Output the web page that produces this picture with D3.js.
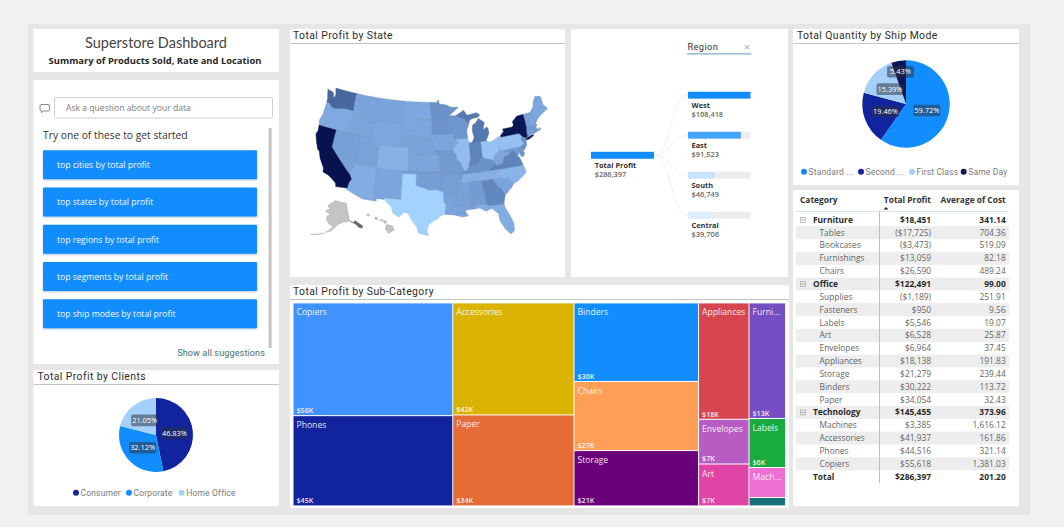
<!DOCTYPE html>
<html>
<head>
<meta charset="utf-8">
<title>Superstore Dashboard</title>
<script src="https://cdn.jsdelivr.net/npm/d3@7/dist/d3.min.js"></script>
<style>
  html, body { margin: 0; padding: 0; background: #f1f1f1; overflow: hidden; }
  svg { display: block; }
  text { font-family: "Open Sans", "Noto Sans", sans-serif; }
  .din { font-family: Roboto, sans-serif; letter-spacing: .42px; }
</style>
</head>
<body>
<svg id="board" width="1064" height="527"></svg>
<script>
// ---- Shared values ----
const suggestions = ["top cities by total profit", "top states by total profit", "top regions by total profit",
  "top segments by total profit", "top ship modes by total profit"];

const clientSegments = ["Consumer", "Corporate", "Home Office"];
const clientShares = [46.83, 32.12, 21.05];
const clientColors = ["#12239E", "#118DFF", "#A5D0FB"];

const shipModes = ["Standard Class", "Second Class", "First Class", "Same Day"];
const shipLegend = ["Standard ...", "Second ...", "First Class", "Same Day"];
const shipShares = [59.72, 19.46, 15.39, 5.43];
const shipColors = ["#118DFF", "#12239E", "#A5D0FB", "#0D1554"];

const regions = ["West", "East", "South", "Central"];
const regionProfit = [108418, 91523, 46749, 39706];
const totalProfit = 286397;

// Table rows: level 0 = category, 1 = sub-category
const rowNames = ["Furniture", "Tables", "Bookcases", "Furnishings", "Chairs", "Office", "Supplies", "Fasteners",
  "Labels", "Art", "Envelopes", "Appliances", "Storage", "Binders", "Paper", "Technology", "Machines", "Accessories",
  "Phones", "Copiers", "Total"];
const rowLevels = [0, 1, 1, 1, 1, 0, 1, 1, 1, 1, 1, 1, 1, 1, 1, 0, 1, 1, 1, 1, 2];
const rowProfit = [18451, -17725, -3473, 13059, 26590, 122491, -1189, 950, 5546, 6528, 6964, 18138, 21279, 30222,
  34054, 145455, 3385, 41937, 44516, 55618, 286397];
const rowCost = [341.14, 704.36, 519.09, 82.18, 489.24, 99.00, 251.91, 9.56, 19.07, 25.87, 37.45, 191.83, 239.44,
  113.72, 32.43, 373.96, 1616.12, 161.86, 321.14, 1381.03, 201.20];

// Treemap columns, in reading order
const treeNames = [["Copiers", "Phones"], ["Accessories", "Paper"], ["Binders", "Chairs", "Storage"],
  ["Appliances", "Envelopes", "Art"], ["Furnishings", "Labels", "Machines", "Fasteners"]];
const treeShort = { Furnishings: "Furni...", Machines: "Mach...", Fasteners: "" };
const treeColors = { Copiers: "#4092FF", Phones: "#12239E", Accessories: "#D9B300", Paper: "#E66C37", Binders: "#118DFF",
  Chairs: "#FF9F57", Storage: "#6B007B", Appliances: "#D64550", Envelopes: "#B65CC2", Art: "#E044A7",
  Furnishings: "#744EC2", Labels: "#1AAB40", Machines: "#EE6FD2", Fasteners: "#197278" };

const stateProfit = { CA: 76381, NY: 74039, WA: 33403, MI: 24463, VA: 18598, IN: 18383, GA: 16250, KY: 11200, MN: 10823,
  DE: 9977, NJ: 9773, WI: 8402, RI: 7286, MD: 7031, MA: 6786, MO: 6436, AL: 5787, OK: 4854, AR: 4009, CT: 3511, NV: 3317,
  MS: 3173, UT: 2547, VT: 2245, LA: 2196, NE: 2037, MT: 1833, SC: 1769, NH: 1707, IA: 1183, NM: 1157, DC: 1060, KS: 836,
  ID: 827, ME: 454, SD: 395, ND: 230, WV: 186, WY: 100, OR: -1190, FL: -3399, AZ: -3428, TN: -5342, CO: -6528, NC: -7491,
  IL: -12608, PA: -15560, OH: -16971, TX: -25729 };

// Simplified state outlines as longitude / latitude rings
const stateOutlines = {
  WA: [[[-124.7,48.4],[-123.1,48.15],[-122.7,47.4],[-122.35,47.4],[-122.3,48.0],[-122.75,49],[-117.03,49],[-117.04,46.42],[-116.92,45.995],[-118.98,46],[-119.3,45.93],[-121.2,45.65],[-122.3,45.55],[-122.8,45.9],[-123.2,46.15],[-124,46.27],[-124.1,46.9]]],
  OR: [[[-124,46.27],[-123.2,46.15],[-122.8,45.9],[-122.3,45.55],[-121.2,45.65],[-119.3,45.93],[-118.98,46],[-116.92,45.995],[-116.5,45.5],[-117.2,44.4],[-117.03,44],[-117.03,42],[-120,42],[-124.2,42],[-124.5,42.85],[-124.1,44]]],
  ID: [[[-117.03,49],[-116.05,49],[-116.05,48],[-115.7,47.5],[-114.7,46.7],[-114.35,46.65],[-114.5,45.6],[-113.95,45.7],[-113.45,45.05],[-113,44.45],[-111.05,44.48],[-111.05,42],[-114.04,42],[-117.03,42],[-117.03,44],[-117.2,44.4],[-116.5,45.5],[-116.92,45.995],[-117.04,46.42]]],
  MT: [[[-116.05,49],[-104.05,49],[-104.05,45.94],[-104.05,45],[-111.05,45],[-111.05,44.48],[-113,44.45],[-113.45,45.05],[-113.95,45.7],[-114.5,45.6],[-114.35,46.65],[-114.7,46.7],[-115.7,47.5],[-116.05,48]]],
  WY: [[[-111.05,45],[-104.05,45],[-104.05,41],[-109.05,41],[-111.05,41]]],
  NV: [[[-120,42],[-114.04,42],[-114.04,37],[-114.04,36.2],[-114.7,36.1],[-114.63,35],[-120,39]]],
  CA: [[[-124.2,42],[-120,42],[-120,39],[-114.63,35],[-114.13,34.3],[-114.5,33.9],[-114.72,32.72],[-117.12,32.53],[-117.3,33.1],[-118.4,33.75],[-119.2,34.15],[-120.5,34.45],[-120.65,35.15],[-121.9,36.6],[-122.5,37.7],[-123,38],[-123.8,39.3],[-124.35,40.4],[-124.1,41]]],
  UT: [[[-114.04,42],[-111.05,42],[-111.05,41],[-109.05,41],[-109.05,37],[-114.04,37]]],
  AZ: [[[-114.04,37],[-109.05,37],[-109.05,31.33],[-111.07,31.33],[-114.8,32.5],[-114.72,32.72],[-114.5,33.9],[-114.13,34.3],[-114.63,35],[-114.7,36.1],[-114.04,36.2]]],
  CO: [[[-109.05,41],[-104.05,41],[-102.05,41],[-102.05,40],[-102.05,37],[-103,37],[-109.05,37]]],
  NM: [[[-109.05,37],[-103,37],[-103,36.5],[-103.04,32],[-106.62,32],[-106.53,31.78],[-108.2,31.78],[-108.2,31.33],[-109.05,31.33]]],
  ND: [[[-104.05,49],[-97.23,49],[-96.85,47.5],[-96.56,45.94],[-104.05,45.94]]],
  SD: [[[-104.05,45.94],[-96.56,45.94],[-96.45,45.3],[-96.45,43.5],[-96.5,42.5],[-97.9,42.8],[-98.5,43],[-104.05,43],[-104.05,45]]],
  NE: [[[-104.05,43],[-98.5,43],[-97.9,42.8],[-96.5,42.5],[-96.1,41.5],[-95.77,40.58],[-95.3,40],[-102.05,40],[-102.05,41],[-104.05,41]]],
  KS: [[[-102.05,40],[-95.3,40],[-94.9,39.8],[-94.6,39.1],[-94.62,37],[-102.05,37]]],
  OK: [[[-103,37],[-102.05,37],[-94.62,37],[-94.62,36.5],[-94.43,35.4],[-94.48,33.64],[-95.5,33.9],[-97.2,33.85],[-98.1,34.13],[-100,34.56],[-100,36.5],[-103,36.5]]],
  TX: [[[-106.62,32],[-103.04,32],[-103,36.5],[-100,36.5],[-100,34.56],[-98.1,34.13],[-97.2,33.85],[-95.5,33.9],[-94.48,33.64],[-94.04,33.55],[-94.04,33],[-94.04,31.99],[-93.55,31.2],[-93.84,29.7],[-94.7,29.4],[-95.3,28.9],[-96.4,28.4],[-97.2,27.7],[-97.4,26.8],[-97.15,25.96],[-99.1,26.4],[-99.5,27.5],[-100.3,28.3],[-101.4,29.77],[-102.3,29.88],[-103.15,28.98],[-104.5,29.6],[-104.9,30.6],[-106.53,31.78]]],
  MN: [[[-97.23,49],[-95.15,49],[-95.15,49.38],[-94.8,49.3],[-94.6,48.7],[-93,48.55],[-91.5,48.07],[-89.6,48],[-92,46.75],[-92.3,46.65],[-92.3,46.1],[-92.85,45.6],[-92.75,44.8],[-91.22,43.5],[-96.45,43.5],[-96.45,45.3],[-96.56,45.94],[-96.85,47.5]]],
  IA: [[[-96.45,43.5],[-91.22,43.5],[-91.1,42.7],[-90.65,42.5],[-90.15,41.9],[-91.1,41.2],[-91.42,40.38],[-91.75,40.6],[-95.77,40.58],[-96.1,41.5],[-96.5,42.5]]],
  MO: [[[-95.77,40.58],[-91.75,40.6],[-91.42,40.38],[-90.7,39.9],[-90.7,39],[-90.15,38.75],[-89.6,37.9],[-89.13,37],[-89.4,36.5],[-89.7,36],[-90.37,36],[-90.15,36.5],[-94.62,36.5],[-94.62,37],[-94.6,39.1],[-94.9,39.8],[-95.3,40]]],
  AR: [[[-94.62,36.5],[-90.15,36.5],[-90.37,36],[-89.7,36],[-90.1,35],[-91.1,33.9],[-91.17,33],[-94.04,33],[-94.04,33.55],[-94.48,33.64],[-94.43,35.4]]],
  LA: [[[-94.04,33],[-91.17,33],[-91.6,31],[-89.75,31],[-89.6,30.2],[-89.4,29.8],[-89,29.2],[-90.2,29.1],[-91.8,29.5],[-93.84,29.7],[-93.55,31.2],[-94.04,31.99]]],
  MS: [[[-90.1,35],[-88.2,35],[-88.4,30.3],[-89.6,30.2],[-89.75,31],[-91.6,31],[-91.17,33],[-91.1,33.9]]],
  AL: [[[-88.2,35],[-85.6,35],[-85,32.3],[-85,31],[-87.6,31],[-87.5,30.3],[-88.4,30.3]]],
  TN: [[[-90.1,35],[-89.7,36],[-89.4,36.5],[-88.05,36.5],[-83.68,36.6],[-81.68,36.59],[-82,36.1],[-84.3,35],[-85.6,35],[-88.2,35]]],
  KY: [[[-89.4,36.5],[-89.13,37],[-88.5,37.1],[-88.05,37.8],[-87,37.9],[-86,38],[-85.4,38.7],[-84.8,39.1],[-84.2,38.8],[-83.6,38.65],[-82.6,38.4],[-82,37.55],[-83.68,36.6],[-88.05,36.5]]],
  IL: [[[-91.42,40.38],[-91.1,41.2],[-90.15,41.9],[-90.65,42.5],[-87.8,42.5],[-87.53,41.7],[-87.53,39.35],[-87.6,38.7],[-88.05,37.8],[-88.5,37.1],[-89.13,37],[-89.6,37.9],[-90.15,38.75],[-90.7,39],[-90.7,39.9]]],
  WI: [[[-92.3,46.65],[-90.4,46.55],[-88.1,45.9],[-87.6,45.1],[-87,45.3],[-87.9,43.9],[-87.8,42.5],[-90.65,42.5],[-91.1,42.7],[-91.22,43.5],[-92.75,44.8],[-92.85,45.6],[-92.3,46.1]]],
  MI: [[[-86.8,41.76],[-84.8,41.76],[-83.45,41.73],[-83.1,42.2],[-82.5,43],[-82.6,43.9],[-83,44.05],[-83.9,43.65],[-83.3,44.9],[-84.7,45.75],[-85.5,45],[-86.3,44.7],[-86.5,43.7],[-86.2,42.5]],
       [[-90.4,46.55],[-88.3,47.4],[-87.5,46.5],[-85,46.75],[-84.2,46.3],[-84.7,46],[-86.5,45.8],[-87.6,45.1],[-88.1,45.9]]],
  IN: [[[-87.53,41.7],[-86.8,41.76],[-84.8,41.76],[-84.8,39.1],[-85.4,38.7],[-86,38],[-87,37.9],[-88.05,37.8],[-87.6,38.7],[-87.53,39.35]]],
  OH: [[[-84.8,41.76],[-83.45,41.73],[-82.5,41.4],[-81.3,41.75],[-80.52,42],[-80.52,40.64],[-80.85,39.7],[-81.75,39.2],[-82.2,38.6],[-82.6,38.4],[-83.6,38.65],[-84.2,38.8],[-84.8,39.1]]],
  WV: [[[-80.52,40.64],[-80.52,39.72],[-79.48,39.72],[-79.48,39.2],[-78.35,39.4],[-77.75,39.32],[-78.9,38.6],[-79.65,38.55],[-80.3,37.5],[-81.7,37.2],[-82,37.55],[-82.6,38.4],[-82.2,38.6],[-81.75,39.2],[-80.85,39.7]]],
  VA: [[[-83.68,36.6],[-81.68,36.59],[-75.9,36.55],[-76.3,37.9],[-77.05,38.4],[-77.05,38.85],[-77.5,39.1],[-77.75,39.32],[-78.9,38.6],[-79.65,38.55],[-80.3,37.5],[-81.7,37.2],[-82,37.55]]],
  NC: [[[-84.3,35],[-82,36.1],[-81.68,36.59],[-75.9,36.55],[-75.5,35.25],[-76.5,34.65],[-77.9,33.9],[-78.55,33.85],[-79.7,34.8],[-80.8,34.82],[-81,35.1],[-82.3,35.2],[-83.1,35]]],
  SC: [[[-83.1,35],[-82.3,35.2],[-81,35.1],[-80.8,34.82],[-79.7,34.8],[-78.55,33.85],[-79.2,33.2],[-80.5,32.3],[-80.9,32.05],[-81.4,33],[-82.5,34]]],
  GA: [[[-85.6,35],[-84.3,35],[-83.1,35],[-82.5,34],[-81.4,33],[-80.9,32.05],[-81.4,30.7],[-82.2,30.55],[-84.86,30.7],[-85,31],[-85,32.3]]],
  FL: [[[-87.6,31],[-85,31],[-84.86,30.7],[-82.2,30.55],[-81.4,30.7],[-81.3,29.9],[-80.55,28.4],[-80.05,26.9],[-80.15,25.7],[-80.9,25.15],[-81.8,26.1],[-82.7,27.7],[-82.8,29],[-84,30.1],[-85.3,29.7],[-86.5,30.4],[-87.5,30.3]]],
  PA: [[[-80.52,42],[-79.76,42.25],[-79.76,42],[-75.35,42],[-74.7,41.35],[-75.13,40.98],[-75.2,40.65],[-74.72,40.15],[-75.4,39.8],[-75.78,39.72],[-79.48,39.72],[-80.52,39.72],[-80.52,40.64]]],
  NY: [[[-79.76,42],[-79.76,42.25],[-78.9,42.85],[-79.05,43.27],[-76.8,43.3],[-76.2,43.55],[-76.3,44.2],[-75,44.95],[-73.35,45.01],[-73.25,43.6],[-73.27,42.75],[-73.5,42.05],[-73.5,41.3],[-73.65,41],[-74,41],[-74.7,41.35],[-75.35,42]],
       [[-74.05,40.6],[-73.7,40.9],[-72.3,41.15],[-71.9,41.05],[-73.2,40.62]]],
  NJ: [[[-74.7,41.35],[-74,41],[-74.05,40.5],[-74.1,39.75],[-74.9,38.95],[-75.5,39.5],[-75.4,39.8],[-74.72,40.15],[-75.2,40.65],[-75.13,40.98]]],
  DE: [[[-75.78,39.72],[-75.4,39.8],[-75.05,38.45],[-75.7,38.46]]],
  MD: [[[-79.48,39.72],[-75.78,39.72],[-75.7,38.46],[-75.05,38.45],[-75.25,38.03],[-75.9,37.95],[-76.2,38.9],[-76.45,38.3],[-77.05,38.4],[-77.05,38.85],[-77.5,39.1],[-77.75,39.32],[-78.35,39.4],[-79.48,39.2]]],
  DC: [[[-77.12,38.93],[-77.04,39],[-76.91,38.89],[-77.04,38.79]]],
  CT: [[[-73.5,42.05],[-71.8,42.02],[-71.8,41.32],[-73.65,41],[-73.5,41.3]]],
  RI: [[[-71.8,42.02],[-71.38,42.02],[-71.15,41.5],[-71.8,41.32]]],
  MA: [[[-73.5,42.05],[-73.27,42.75],[-72.46,42.73],[-71.3,42.7],[-70.8,42.87],[-70.6,42.65],[-71,42.3],[-70.55,41.8],[-70.05,42.05],[-69.95,41.7],[-71.15,41.5],[-71.38,42.02],[-71.8,42.02]]],
  VT: [[[-73.35,45.01],[-71.5,45.01],[-72.05,44.1],[-72.45,43],[-72.46,42.73],[-73.27,42.75],[-73.25,43.6]]],
  NH: [[[-71.5,45.01],[-71.08,45.3],[-70.98,43.4],[-70.7,43.07],[-70.8,42.87],[-71.3,42.7],[-72.46,42.73],[-72.45,43],[-72.05,44.1]]],
  ME: [[[-71.08,45.3],[-70.3,45.9],[-70,46.7],[-69.2,47.45],[-68.3,47.35],[-67.8,47.07],[-67.8,45.7],[-67,44.85],[-68.5,44.3],[-69.8,43.75],[-70.7,43.07],[-70.98,43.4]]],
  AK: [[[-156.5,71.3],[-141,69.6],[-141,60.3],[-144,60],[-148,60],[-151.5,59.2],[-150,61],[-153,59],[-156,57.5],[-160,55.5],[-164,54.6],[-161,56],[-158,58],[-162,59],[-165,61],[-165,63],[-161,64],[-166,64.6],[-168,65.6],[-163,66.5],[-166.5,68.3],[-163,69.5]],
       [[-166.5,53.9],[-165,54.2],[-168,53.4],[-172,52.6],[-176,51.8],[-172,52.3]]],
  HI: [[[-156.1,20.35],[-155,20.15],[-154.6,19.4],[-155.7,18.75],[-156.25,19.5]],
       [[-156.75,21],[-156.2,21.05],[-155.95,20.72],[-156.45,20.55]],
       [[-157.3,21.2],[-156.75,21.2],[-156.8,21.05],[-157.3,21.05]],
       [[-158.3,21.6],[-157.95,21.75],[-157.65,21.3],[-158.15,21.25]],
       [[-159.85,22.1],[-159.4,22.25],[-159.3,21.95],[-159.6,21.85]]]
};
// Southeast Alaska is drawn apart: its islands read as a darker strip
const alaskaPanhandle = [[-141,60.3],[-137.5,58.9],[-135.5,59.8],[-133.5,58.4],[-130.1,56],[-131.5,55],[-134,56],[-136,58],[-139.5,59.6]];

// ---- Helpers ----
const svg = d3.select("#board");
const fmtMoney = v => v < 0 ? "($" + d3.format(",")(-v) + ")" : "$" + d3.format(",")(v);
const fmtCost = d3.format(",.2f");

function panel(x0, y0, x1, y1) {
  svg.append("rect").attr("x", x0).attr("y", y0).attr("width", x1 - x0).attr("height", y1 - y0).attr("fill", "#fff");
}
function titledStrip(label, x0, x1, y0, tx) {
  svg.append("text").attr("class", "din").attr("x", tx).attr("y", y0 + 9.8).attr("font-size", 10.4).attr("fill", "#2c2c2c").text(label);
  svg.append("line").attr("x1", x0).attr("x2", x1).attr("y1", y0 + 14.5).attr("y2", y0 + 14.5).attr("stroke", "#c4c4c4").attr("stroke-width", 1.2);
}

function drawPie(cx, cy, r, names, shares, colors, legendX, legendLabels, legendY) {
  const g = svg.append("g").attr("transform", `translate(${cx},${cy})`);
  const slices = d3.pie().sort(null)(shares);
  const arc = d3.arc().innerRadius(0).outerRadius(r);
  g.selectAll("path").data(slices).join("path").attr("d", arc).attr("fill", (d, i) => colors[i]);
  slices.forEach(s => {
    // thin slices push their label toward the rim
    const [lx, ly] = s.value < 10
      ? d3.arc().innerRadius(r * 0.75).outerRadius(r * 0.75).centroid(s)
      : arc.centroid(s);
    g.append("rect").attr("x", lx - 13.5).attr("y", ly - 5.8).attr("width", 27).attr("height", 11.6).attr("rx", 2)
      .attr("fill", "rgba(45,50,60,.52)");
    g.append("text").attr("x", lx).attr("y", ly + 2.6).attr("text-anchor", "middle").attr("font-size", 7.4)
      .attr("fill", "#fff").text(d3.format(".2f")(s.value) + "%");
  });
  legendLabels.forEach((label, i) => {
    svg.append("circle").attr("cx", legendX[i]).attr("cy", legendY).attr("r", 3).attr("fill", colors[i]);
    svg.append("text").attr("class", "din").attr("x", legendX[i] + 4.6).attr("y", legendY + 3.2).attr("font-size", 8.5)
      .attr("fill", "#7a7a7a").style("letter-spacing", ".15px").text(label);
  });
}

// ---- Canvas and panels ----
svg.append("rect").attr("x", 28).attr("y", 24).attr("width", 1002).attr("height", 491).attr("fill", "#e6e6e6");
panel(33.5, 29, 279, 72);
panel(33.5, 80, 279, 364);
panel(33.5, 370, 279, 506);
panel(290, 29, 565, 277);
panel(571, 29, 788, 277);
panel(290, 285, 789, 508);
panel(793, 29, 1019, 185);
panel(793, 190, 1019, 506);

// ---- Heading ----
svg.append("text").attr("x", 156).attr("y", 48).attr("text-anchor", "middle").attr("font-size", 14.5).attr("font-weight", 400).style("font-family", "Lato, sans-serif").attr("fill", "#444").text("Superstore Dashboard");
svg.append("text").attr("x", 155).attr("y", 64.3).attr("text-anchor", "middle").attr("font-size", 9.4).attr("font-weight", 700).attr("fill", "#252525").text("Summary of Products Sold, Rate and Location");

// ---- Q&A box ----
svg.append("path").attr("d", "M41 104.5h7a1.5 1.5 0 0 1 1.5 1.5v3.5a1.5 1.5 0 0 1-1.5 1.5h-4.5l-2 1.6v-1.7a1.5 1.5 0 0 1-1.5-1.4v-3.5a1.5 1.5 0 0 1 1-1.5z")
  .attr("fill", "none").attr("stroke", "#555").attr("stroke-width", .7);
svg.append("rect").attr("x", 54.5).attr("y", 97.5).attr("width", 218).attr("height", 20.5).attr("rx", 1.5).attr("fill", "#fff").attr("stroke", "#cfcfcf");
svg.append("text").attr("x", 66).attr("y", 110.5).attr("font-size", 8.6).attr("fill", "#7c7c7c").text("Ask a question about your data");
svg.append("text").attr("x", 43).attr("y", 139).attr("font-size", 10.3).attr("fill", "#333").text("Try one of these to get started");
svg.append("g").selectAll("rect").data(suggestions).join("rect")
  .attr("x", 43).attr("y", (d, i) => 150.2 + i * 37.25).attr("width", 214).attr("height", 29).attr("rx", 1)
  .attr("fill", "#118DFF").style("filter", "drop-shadow(0 1px 1px rgba(0,60,130,.28))");
svg.append("g").selectAll("text").data(suggestions).join("text")
  .attr("x", 57).attr("y", (d, i) => 168 + i * 37.25).attr("font-size", 8.6).attr("fill", "#f2f8ff").text(d => d);
svg.append("rect").attr("x", 268.6).attr("y", 128).attr("width", 3).attr("height", 220).attr("fill", "#c4c4c4");
svg.append("text").attr("x", 265).attr("y", 355.5).attr("text-anchor", "end").attr("font-size", 9.1).attr("class", "din").style("letter-spacing", ".1px").attr("fill", "#3f7273").text("Show all suggestions");

// ---- Pies ----
titledStrip("Total Profit by Clients", 33.5, 279, 370, 37.5);
drawPie(156, 435, 37, clientSegments, clientShares, clientColors, [76, 129, 181.7], clientSegments, 492.7);
titledStrip("Total Quantity by Ship Mode", 793, 1019, 29, 797);
drawPie(906, 104, 43.7, shipModes, shipShares, shipColors, [804, 861, 912, 963.7], shipLegend, 171.7);

// ---- Map ----
titledStrip("Total Profit by State", 290, 565, 29, 293);
const mapColor = d3.scaleLinear().domain([-25729, 0, 33403, 76381]).range(["#A3D2FF", "#7DA7DE", "#47679F", "#07124F"]);
const mapScale = 321, mapMidY = 162, verticalStretch = 1.03;
const mainland = d3.geoAlbers().scale(mapScale).translate([431.5, mapMidY]);
// Alaska and Hawaii get their own conic insets below the southwest
const insets = {
  AK: d3.geoConicEqualArea().rotate([154, 0]).center([-2, 58.5]).parallels([55, 65]).scale(mapScale * 0.35).translate([335, 225.5]),
  HI: d3.geoConicEqualArea().rotate([157, 0]).center([-3, 19.9]).parallels([8, 18]).scale(mapScale).translate([365.7, 227])
};
const project = (p, key) => {
  if (insets[key]) return insets[key](p);
  const q = mainland(p);
  return [q[0], mapMidY + (q[1] - mapMidY) * verticalStretch];
};
// walk each edge in one-degree steps so parallels keep their curve
function densify(ring) {
  const out = [];
  ring.forEach((a, i) => {
    const b = ring[(i + 1) % ring.length];
    const n = Math.max(1, Math.ceil(Math.max(Math.abs(b[0] - a[0]), Math.abs(b[1] - a[1]))));
    for (let k = 0; k < n; k++) out.push([a[0] + (b[0] - a[0]) * k / n, a[1] + (b[1] - a[1]) * k / n]);
  });
  return out;
}
const ringLine = d3.line();
const ringPath = (ring, key) => ringLine(densify(ring).map(p => project(p, key))) + "Z";
const mapG = svg.append("g");
const stateKeys = Object.keys(stateOutlines).sort((a, b) => (stateProfit[a] === undefined ? -1e6 : Math.abs(stateProfit[a])) - (stateProfit[b] === undefined ? -1e6 : Math.abs(stateProfit[b])));
mapG.selectAll("path").data(stateKeys).join("path")
  .attr("d", k => stateOutlines[k].map(r => ringPath(r, k)).join(""))
  .attr("fill", k => stateProfit[k] === undefined ? "#C4C4C4" : mapColor(stateProfit[k]))
  .attr("stroke", k => stateProfit[k] === undefined ? "#a2a2a2" : d3.color(mapColor(stateProfit[k])).darker(.35))
  .attr("stroke-width", .45).attr("stroke-linejoin", "round");
mapG.append("path").attr("d", ringPath(alaskaPanhandle, "AK")).attr("fill", "#666").attr("stroke", "#666").attr("stroke-width", .5);

// ---- Decomposition tree ----
const barWidth = d3.scaleLinear().domain([0, d3.max(regionProfit)]).range([0, 62.5]);
const barY = d3.scalePoint().domain(regions).range([95.2, 215.2]);
const barShade = d3.scaleLinear().domain([39706, 108418]).range(["#DEEDFD", "#118DFF"]);
const link = d3.linkHorizontal();
svg.append("g").selectAll("path").data(regions).join("path")
  .attr("d", r => link({ source: [654, 155.5], target: [688, barY(r)] }))
  .attr("fill", "none").attr("stroke", "#f0f0f0").attr("stroke-width", 1);
svg.append("rect").attr("x", 591).attr("y", 151.8).attr("width", 63).attr("height", 7).attr("fill", "#118DFF");
svg.append("text").attr("x", 594.7).attr("y", 168).attr("font-size", 7.4).attr("font-weight", 700).attr("fill", "#333").text("Total Profit");
svg.append("text").attr("x", 594.7).attr("y", 177).attr("font-size", 7.4).attr("fill", "#666").style("font-weight", 600).text(fmtMoney(totalProfit));
regions.forEach((r, i) => {
  const y = barY(r);
  svg.append("rect").attr("x", 688).attr("y", y - 3.4).attr("width", 62.5).attr("height", 6.8).attr("fill", "#ececec");
  svg.append("rect").attr("x", 688).attr("y", y - 3.4).attr("width", barWidth(regionProfit[i])).attr("height", 6.8).attr("fill", barShade(regionProfit[i]));
  svg.append("text").attr("x", 691.5).attr("y", y + 13).attr("font-size", 7.4).attr("font-weight", 700).attr("fill", "#333").text(r);
  svg.append("text").attr("x", 691.5).attr("y", y + 22).attr("font-size", 7.4).attr("fill", "#666").style("font-weight", 600).text(fmtMoney(regionProfit[i]));
});
svg.append("text").attr("class", "din").attr("x", 687.5).attr("y", 50.3).attr("font-size", 9.2).attr("fill", "#333").text("Region");
svg.append("text").attr("x", 747).attr("y", 51).attr("text-anchor", "middle").attr("font-size", 11).attr("fill", "#aaa").text("×");
svg.append("line").attr("x1", 687).attr("x2", 751).attr("y1", 53.9).attr("y2", 53.9).attr("stroke", "#79aecd").attr("stroke-width", 1.2);

// ---- Treemap ----
titledStrip("Total Profit by Sub-Category", 290, 789, 285, 293);
const profitOf = name => rowProfit[rowNames.indexOf(name)];
const treeRoot = d3.hierarchy({ children: treeNames.map(col => ({ children: col.map(name => ({ name, value: profitOf(name) })) })) })
  .sum(d => d.value || 0);
d3.treemap().tile(d3.treemapSliceDice).size([491.6, 202]).paddingInner(1)(treeRoot);
const treeG = svg.append("g").attr("transform", "translate(293.5,303.4)");
const leaves = treeG.selectAll("g").data(treeRoot.leaves()).join("g").attr("transform", d => `translate(${d.x0},${d.y0})`);
leaves.append("rect").attr("width", d => d.x1 - d.x0).attr("height", d => d.y1 - d.y0).attr("fill", d => treeColors[d.data.name]);
leaves.append("text").attr("x", 3).attr("y", 12).attr("font-size", 8.6).attr("fill", "#fff").attr("fill-opacity", .92)
  .text(d => d.data.name in treeShort ? treeShort[d.data.name] : d.data.name);
leaves.filter(d => !["Machines", "Fasteners"].includes(d.data.name)).append("text")
  .attr("x", 3).attr("y", d => d.y1 - d.y0 - 2.2).attr("font-size", 7.2).attr("font-weight", 600).attr("fill", "#fff").attr("fill-opacity", .92)
  .text(d => "$" + Math.round(d.value / 1000) + "K");

// ---- Table ----
const rowY = d3.scaleLinear().domain([0, 20]).range([219.8, 476.6]);
const tableG = svg.append("g");
rowNames.forEach((name, i) => {
  const y = rowY(i), level = rowLevels[i];
  if (i % 2 === 1 && level !== 2) tableG.append("rect").attr("x", 796).attr("y", y - 6.5).attr("width", 213).attr("height", 13).attr("fill", "#ededed");
  const strong = level !== 1;
  const size = 8.4;
  const weight = strong ? 700 : 400;
  const fill = strong ? "#2b2b2b" : "#666";
  tableG.append("text").attr("x", level === 1 ? 819.5 : 813).attr("y", y + 3).attr("font-size", size).attr("font-weight", weight).attr("fill", fill).text(name);
  tableG.append("text").attr("x", 931).attr("y", y + 3).attr("text-anchor", "end").attr("font-size", size).attr("font-weight", weight).attr("fill", fill).text(fmtMoney(rowProfit[i]));
  tableG.append("text").attr("x", 1005.7).attr("y", y + 3).attr("text-anchor", "end").attr("font-size", size).attr("font-weight", weight).attr("fill", fill).text(fmtCost(rowCost[i]));
  if (level === 0) {
    tableG.append("rect").attr("x", 800.5).attr("y", y - 2.5).attr("width", 5).attr("height", 5).attr("fill", "none").attr("stroke", "#999").attr("stroke-width", .6);
    tableG.append("line").attr("x1", 801.5).attr("x2", 804.5).attr("y1", y).attr("y2", y).attr("stroke", "#777").attr("stroke-width", .7);
  }
});
[["Category", 800, "start"], ["Total Profit", 931, "end"], ["Average of Cost", 1005.7, "end"]].forEach(([label, x, anchor]) => {
  tableG.append("text").attr("x", x).attr("y", 203).attr("text-anchor", anchor).attr("font-size", 8.4).attr("font-weight", 700).attr("fill", "#333").text(label);
});
tableG.append("path").attr("d", "M883.5 209.5l2.5-2.5 2.5 2.5z").attr("fill", "#222");
tableG.append("line").attr("x1", 796).attr("x2", 1009).attr("y1", 211.4).attr("y2", 211.4).attr("stroke", "#c3d8e6").attr("stroke-width", .8);
tableG.append("line").attr("x1", 879.5).attr("x2", 879.5).attr("y1", 211.4).attr("y2", 483).attr("stroke", "#9fc0d8").attr("stroke-width", .9);
</script>
</body>
</html>
